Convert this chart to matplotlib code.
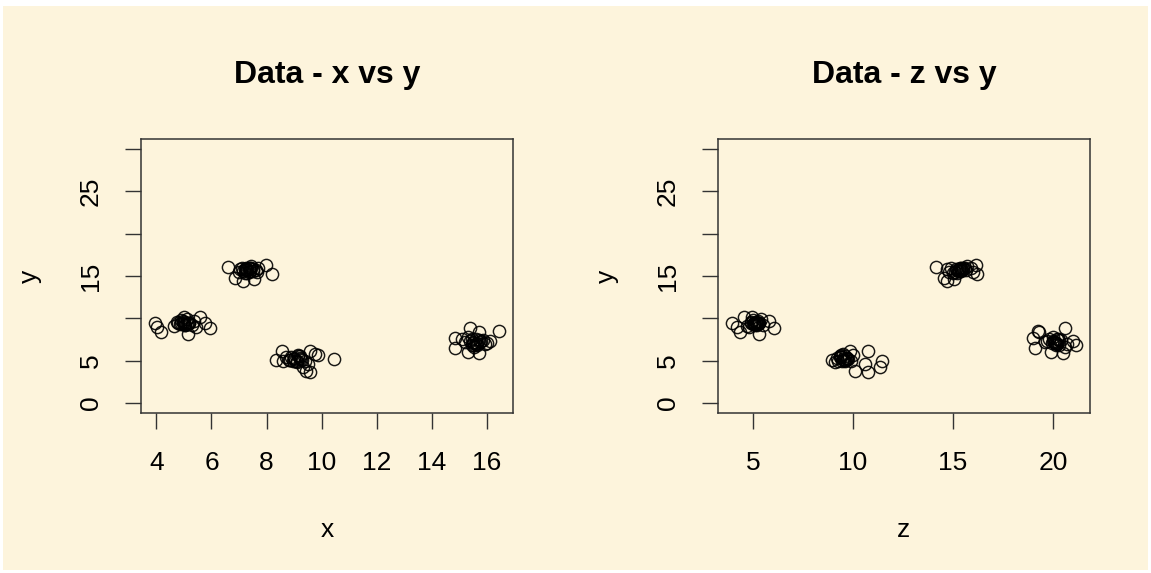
import matplotlib.pyplot as plt
from matplotlib.patches import Rectangle

# cztery skupiska punktow: (x, y, z) dla kazdej obserwacji
x = [3.94, 4.18, 4.02, 4.85, 5.57, 5.94, 4.75, 5.05, 4.90, 5.20,
     4.65, 5.35, 5.00, 5.10, 5.45, 4.95, 5.30, 5.15, 5.00, 5.75,
     4.90, 5.00, 5.10, 4.80, 5.20, 5.05, 4.95, 5.15,
     6.60, 7.97, 8.20, 7.14, 6.85, 7.54, 7.27, 7.10, 7.40, 7.35,
     7.00, 7.60, 7.20, 7.45, 7.70, 7.30, 7.05, 7.50, 7.25, 7.65,
     7.30, 7.40, 7.20, 7.35, 7.50, 7.15, 7.45, 7.25,
     8.85, 8.36, 8.55, 9.57, 9.33, 9.88, 9.57, 10.46, 9.45, 9.00,
     8.95, 9.20, 9.10, 9.40, 8.70, 9.25, 9.50, 9.75, 8.60, 9.15,
     9.00, 9.10, 8.90, 9.20, 9.05, 8.80, 9.30, 9.15,
     15.51, 14.85, 14.85, 15.39, 15.73, 16.45, 15.70, 16.12, 15.32, 15.60,
     15.20, 15.45, 15.85, 15.95, 15.10, 15.65, 15.30, 15.80, 15.55, 16.00,
     15.50, 15.60, 15.40, 15.70, 15.55, 15.65, 15.45, 15.75]

y = [9.5, 8.4, 9.0, 9.3, 10.1, 8.9, 9.6, 9.2, 9.8, 9.4,
     9.1, 9.7, 9.3, 9.9, 9.0, 9.5, 9.2, 8.2, 10.2, 9.4,
     9.4, 9.6, 9.3, 9.5, 9.5, 9.2, 9.7, 9.4,
     16.1, 16.3, 15.2, 14.4, 14.8, 14.6, 15.8, 15.9, 15.6, 16.0,
     15.5, 15.7, 15.4, 16.2, 15.9, 15.3, 15.8, 15.6, 16.0, 15.5,
     15.7, 15.9, 15.8, 15.5, 15.8, 15.6, 16.0, 15.7,
     5.1, 5.1, 6.1, 3.7, 4.2, 5.7, 6.1, 5.2, 3.8, 5.3,
     4.9, 5.5, 4.8, 5.0, 5.4, 5.2, 4.6, 5.8, 4.9, 5.6,
     5.2, 5.0, 5.4, 5.3, 4.9, 5.1, 5.1, 5.5,
     7.1, 7.7, 6.5, 8.9, 8.4, 8.5, 5.9, 7.3, 6.0, 7.5,
     7.2, 6.8, 7.4, 7.0, 7.6, 6.9, 7.8, 7.3, 6.6, 7.1,
     7.2, 7.0, 7.3, 7.4, 6.9, 7.1, 7.5, 7.2]

z = [3.95, 4.34, 4.20, 5.08, 4.58, 6.07, 4.90, 5.20, 5.00, 5.30,
     4.70, 5.82, 5.10, 5.40, 4.80, 5.25, 5.50, 5.33, 4.95, 5.15,
     5.05, 5.15, 5.00, 5.20, 4.90, 5.10, 5.25, 5.30,
     14.15, 16.13, 16.20, 14.72, 14.56, 15.05, 15.14, 14.90, 15.30, 15.50,
     14.80, 15.63, 15.00, 15.70, 15.90, 15.20, 14.70, 15.40, 15.60, 16.00,
     15.20, 15.40, 15.30, 15.10, 15.50, 15.25, 15.35, 15.45,
     9.53, 8.96, 9.86, 10.77, 11.35, 9.40, 10.77, 9.70, 10.11, 9.20,
     11.43, 9.60, 9.10, 9.90, 9.35, 9.75, 10.60, 9.50, 9.25, 10.00,
     9.50, 9.60, 9.40, 9.70, 9.45, 9.55, 9.65, 9.35,
     20.08, 19.00, 19.10, 20.58, 19.30, 19.26, 20.50, 20.99, 19.90, 20.20,
     19.60, 21.15, 20.40, 20.70, 19.80, 20.30, 20.00, 19.70, 20.60, 20.15,
     20.10, 20.20, 20.00, 20.30, 20.15, 19.95, 20.25, 20.05]

x_ticks = [4, 6, 8, 10, 12, 14, 16]
z_ticks = [5, 10, 15, 20]
y_ticks = [0, 5, 10, 15, 20, 25, 30]
y_labels = ['0', '5', '', '15', '', '25', '']

tlo = '#FDF4DC'
plt.rcParams['font.family'] = ['Liberation Sans', 'DejaVu Sans']

fig = plt.figure(figsize=(11.51, 5.73), dpi=100, facecolor='white')
fig.patches.append(Rectangle((3 / 1151, 3 / 573), 1145 / 1151, 564 / 573,
                             transform=fig.transFigure, facecolor=tlo,
                             edgecolor='none', zorder=-10))

ax1 = fig.add_axes([141 / 1151, 160 / 573, 372 / 1151, 274 / 573])
ax2 = fig.add_axes([718 / 1151, 160 / 573, 372 / 1151, 274 / 573])


def rysuj(ax, xs, ticks, tytul, etykieta):
    ax.set_facecolor(tlo)
    ax.plot(xs, y, 'o', markersize=8.8, markerfacecolor='none',
            markeredgecolor='black', markeredgewidth=1.05, alpha=0.9)
    lo, hi = min(xs), max(xs)
    d = (hi - lo) * 0.04
    ax.set_xlim(lo - d, hi + d)
    ax.set_ylim(-1.2, 31.2)
    ax.set_xticks(ticks)
    ax.set_xticklabels([str(t) for t in ticks], fontsize=19)
    ax.set_yticks(y_ticks)
    ax.set_yticklabels(y_labels, fontsize=19, rotation=90, va='center')
    ax.tick_params(axis='both', length=11.5, width=1.0, color='#333333')
    ax.tick_params(axis='x', pad=16)
    ax.tick_params(axis='y', pad=16)
    for s in ax.spines.values():
        s.set_linewidth(1.1)
        s.set_color('#333333')
    ax.text(0.5, 1.234, tytul, transform=ax.transAxes, ha='center',
            va='center', fontsize=23, fontweight='bold')
    ax.set_xlabel(etykieta, fontsize=19)
    ax.xaxis.set_label_coords(0.5, -0.427)
    ax.xaxis.label.set_va('center')
    ax.set_ylabel('y', fontsize=19)
    ax.yaxis.set_label_coords(-0.298, 0.5)
    ax.yaxis.label.set_va('center')


rysuj(ax1, x, x_ticks, 'Data - x vs y', 'x')
rysuj(ax2, z, z_ticks, 'Data - z vs y', 'z')

plt.savefig('out.png', dpi=100, facecolor='white')
